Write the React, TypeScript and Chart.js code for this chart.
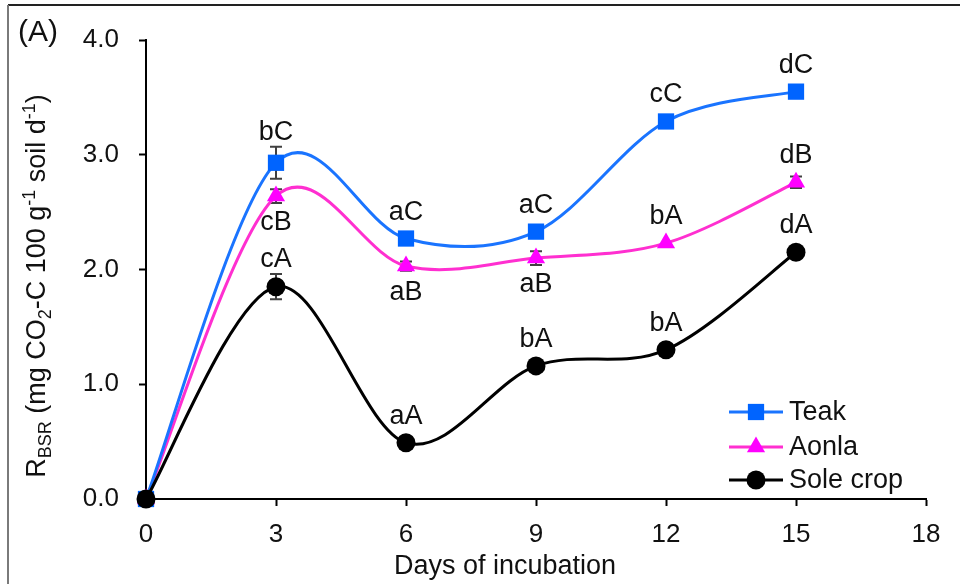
import React, { useEffect, useRef } from 'react';
import { Chart, registerables } from 'chart.js';
Chart.register(...registerables);

const days = [0, 3, 6, 9, 12, 15];
const teak = [0, 2.93, 2.27, 2.33, 3.29, 3.55];
const aonla = [0, 2.64, 2.03, 2.1, 2.23, 2.76];
const sole = [0, 1.85, 0.49, 1.16, 1.3, 2.15];
const teakErr = [0, 0.14, 0, 0, 0, 0];
const aonlaErr = [0, 0.06, 0.04, 0.06, 0, 0.05];
const soleErr = [0, 0.11, 0, 0, 0, 0];
const teakLabels = ['', 'bC', 'aC', 'aC', 'cC', 'dC'];
const aonlaLabels = ['', 'cB', 'aB', 'aB', 'bA', 'dB'];
const soleLabels = ['', 'cA', 'aA', 'bA', 'bA', 'dA'];
const teakBelow = [false, false, false, false, false, false];
const aonlaBelow = [false, true, true, true, false, false];
const soleBelow = [false, false, false, false, false, false];
const seriesNames = ['Teak', 'Aonla', 'Sole crop'];
const panelLabel = '(A)';
const xTitle = 'Days of incubation';

const FONT = "'Liberation Sans', Arial, Helvetica, sans-serif";
const TXT = '#111111';
const lineColors = ['#1a74ff', '#ff2fd0', '#000000'];
const markerColors = ['#0064ff', '#ff00ff', '#000000'];
const pointStyles = ['rect', 'triangle', 'circle'];
const pointRadii = [11.5, 10.5, 9.5];

const errs = [teakErr, aonlaErr, soleErr];
const labels = [teakLabels, aonlaLabels, soleLabels];
const below = [teakBelow, aonlaBelow, soleBelow];

function toXY(vals: number[]) {
  return vals.map((v, i) => ({ x: days[i], y: v }));
}

const excelSmooth = {
  id: 'excelSmooth',
  beforeDatasetDraw(chart: any, args: any) {
    const meta = args.meta;
    const pts = meta.data;
    const n = pts.length;
    for (let i = 0; i < n; i++) {
      const p = pts[i];
      const prev = pts[Math.max(0, i - 1)];
      const next = pts[Math.min(n - 1, i + 1)];
      const dx = (next.x - prev.x) / 6;
      const dy = (next.y - prev.y) / 6;
      p.cp1x = p.x - dx;
      p.cp1y = p.y - dy;
      p.cp2x = p.x + dx;
      p.cp2y = p.y + dy;
    }
    if (meta.dataset) {
      meta.dataset._pointsUpdated = true;
      meta.dataset._path = undefined;
    }
  },
};

const errorBars = {
  id: 'errorBars',
  beforeDatasetsDraw(chart: any) {
    const ctx = chart.ctx;
    const ys = chart.scales.y;
    ctx.save();
    ctx.strokeStyle = '#404040';
    ctx.lineWidth = 2;
    chart.data.datasets.forEach((ds: any, i: number) => {
      const meta = chart.getDatasetMeta(i);
      meta.data.forEach((pt: any, j: number) => {
        const e = errs[i][j];
        if (!e) return;
        const v = ds.data[j].y;
        const t = ys.getPixelForValue(v + e);
        const b = ys.getPixelForValue(v - e);
        ctx.beginPath();
        ctx.moveTo(pt.x, t);
        ctx.lineTo(pt.x, b);
        ctx.moveTo(pt.x - 6, t);
        ctx.lineTo(pt.x + 6, t);
        ctx.moveTo(pt.x - 6, b);
        ctx.lineTo(pt.x + 6, b);
        ctx.stroke();
      });
    });
    ctx.restore();
  },
};

function drawMarker(ctx: any, style: string, x: number, y: number, r: number, color: string) {
  ctx.fillStyle = color;
  ctx.beginPath();
  if (style === 'rect') {
    const s = r * Math.SQRT1_2;
    ctx.rect(x - s, y - s, 2 * s, 2 * s);
  } else if (style === 'triangle') {
    ctx.moveTo(x, y - r);
    ctx.lineTo(x + r * Math.sin((2 * Math.PI) / 3), y + r / 2);
    ctx.lineTo(x - r * Math.sin((2 * Math.PI) / 3), y + r / 2);
    ctx.closePath();
  } else {
    ctx.arc(x, y, r, 0, Math.PI * 2);
  }
  ctx.fill();
}

const decorations = {
  id: 'decorations',
  beforeDraw(chart: any) {
    const ctx = chart.ctx;
    ctx.save();
    ctx.fillStyle = '#ffffff';
    ctx.fillRect(0, 0, chart.width, chart.height);
    ctx.strokeStyle = '#222222';
    ctx.lineWidth = 2;
    ctx.beginPath();
    ctx.moveTo(8, 5);
    ctx.lineTo(chart.width, 5);
    ctx.stroke();
    ctx.strokeStyle = '#7a7a7a';
    ctx.beginPath();
    ctx.moveTo(8, 5);
    ctx.lineTo(8, chart.height);
    ctx.stroke();
    ctx.restore();
  },
  afterDatasetsDraw(chart: any) {
    const ctx = chart.ctx;
    const ys = chart.scales.y;
    ctx.save();
    ctx.fillStyle = TXT;
    ctx.font = `27px ${FONT}`;
    ctx.textAlign = 'center';
    ctx.textBaseline = 'alphabetic';
    chart.data.datasets.forEach((ds: any, i: number) => {
      const meta = chart.getDatasetMeta(i);
      meta.data.forEach((pt: any, j: number) => {
        const lab = labels[i][j];
        if (!lab) return;
        let y;
        if (below[i][j]) {
          y = pt.y + 34;
        } else {
          const ePx = errs[i][j] ? pt.y - ys.getPixelForValue(ds.data[j].y + errs[i][j]) : 0;
          y = pt.y - Math.max(19, ePx + 7);
        }
        ctx.fillText(lab, pt.x, y);
      });
    });
    ctx.restore();
  },
  afterDraw(chart: any) {
    const ctx = chart.ctx;
    ctx.save();
    ctx.fillStyle = TXT;
    // panel label
    ctx.font = `30px ${FONT}`;
    ctx.textAlign = 'left';
    ctx.textBaseline = 'alphabetic';
    ctx.fillText(panelLabel, 18, 41);
    // x title
    ctx.font = `27px ${FONT}`;
    ctx.textAlign = 'center';
    ctx.fillText(xTitle, 505, 574);
    // legend
    const lx0 = 729, lx1 = 783, tx = 789;
    const rows = [412, 447, 480];
    seriesNames.forEach((name, i) => {
      const y = rows[i];
      ctx.strokeStyle = lineColors[i];
      ctx.lineWidth = 3;
      ctx.beginPath();
      ctx.moveTo(lx0, y);
      ctx.lineTo(lx1, y);
      ctx.stroke();
      drawMarker(ctx, pointStyles[i], (lx0 + lx1) / 2, y, pointRadii[i], markerColors[i]);
      ctx.fillStyle = TXT;
      ctx.font = `27px ${FONT}`;
      ctx.textAlign = 'left';
      ctx.textBaseline = 'middle';
      ctx.fillText(name, tx, y + 1);
    });
    // y title with sub/superscripts
    const segs: [string, string][] = [
      ['R', 'n'], ['BSR', 'sub'], [' (mg CO', 'n'], ['2', 'sub'], ['-C 100 g', 'n'],
      ['-1', 'sup'], [' soil d', 'n'], ['-1', 'sup'], [')', 'n'],
    ];
    const fontFor = (k: string) => (k === 'n' ? `27px ${FONT}` : `18px ${FONT}`);
    let total = 0;
    segs.forEach(([t, k]) => {
      ctx.font = fontFor(k);
      total += ctx.measureText(t).width;
    });
    ctx.translate(45, 286);
    ctx.rotate(-Math.PI / 2);
    ctx.textAlign = 'left';
    ctx.textBaseline = 'alphabetic';
    let cx = -total / 2;
    segs.forEach(([t, k]) => {
      ctx.font = fontFor(k);
      const dy = k === 'sub' ? 6 : k === 'sup' ? -10 : 0;
      ctx.fillText(t, cx, dy);
      cx += ctx.measureText(t).width;
    });
    ctx.restore();
  },
};

export default function App() {
  const ref = useRef<HTMLCanvasElement>(null);
  useEffect(() => {
    if (!ref.current) return;
    const series = [teak, aonla, sole];
    const chart = new Chart(ref.current, {
      type: 'line',
      data: {
        datasets: series.map((vals, i) => ({
          label: seriesNames[i],
          data: toXY(vals),
          borderColor: lineColors[i],
          borderWidth: 3,
          backgroundColor: markerColors[i],
          pointBackgroundColor: markerColors[i],
          pointBorderColor: markerColors[i],
          pointBorderWidth: 0,
          pointStyle: pointStyles[i] as any,
          pointRadius: pointRadii[i],
          tension: 0.4,
          fill: false,
          clip: false as any,
          order: i === 2 ? 0 : i === 0 ? 1 : 2,
        })),
      },
      options: {
        animation: false,
        responsive: false,
        maintainAspectRatio: false,
        layout: { padding: { left: 0, top: 40, right: 34, bottom: 0 } },
        plugins: { legend: { display: false }, tooltip: { enabled: false } },
        scales: {
          x: {
            type: 'linear',
            min: 0,
            max: 18,
            afterFit: (s: any) => { s.height = 85; },
            afterBuildTicks: (s: any) => {
              s.ticks = [0, 3, 6, 9, 12, 15, 18].map((v) => ({ value: v }));
            },
            ticks: {
              stepSize: 3,
              color: TXT,
              font: { family: FONT, size: 26 },
              padding: 13,
              maxRotation: 0,
            },
            grid: {
              display: true,
              drawOnChartArea: false,
              drawTicks: true,
              tickLength: 7,
              tickColor: '#000',
              tickWidth: 2,
            },
            border: { display: true, color: '#000', width: 2 },
          },
          y: {
            type: 'linear',
            min: 0,
            max: 4,
            afterFit: (s: any) => { s.width = 146; },
            ticks: {
              stepSize: 1,
              color: TXT,
              font: { family: FONT, size: 26 },
              padding: 20,
              callback: (v: any) => Number(v).toFixed(1),
            },
            grid: {
              display: true,
              drawOnChartArea: false,
              drawTicks: true,
              tickLength: 7,
              tickColor: '#000',
              tickWidth: 2,
            },
            border: { display: true, color: '#000', width: 2 },
          },
        },
      },
      plugins: [excelSmooth, errorBars, decorations],
    });
    return () => chart.destroy();
  }, []);
  return (
    <div style={{ position: 'fixed', left: 0, top: 0, width: 960, height: 584, background: '#fff' }}>
      <canvas ref={ref} width={960} height={584} style={{ width: 960, height: 584, display: 'block' }} />
    </div>
  );
}
